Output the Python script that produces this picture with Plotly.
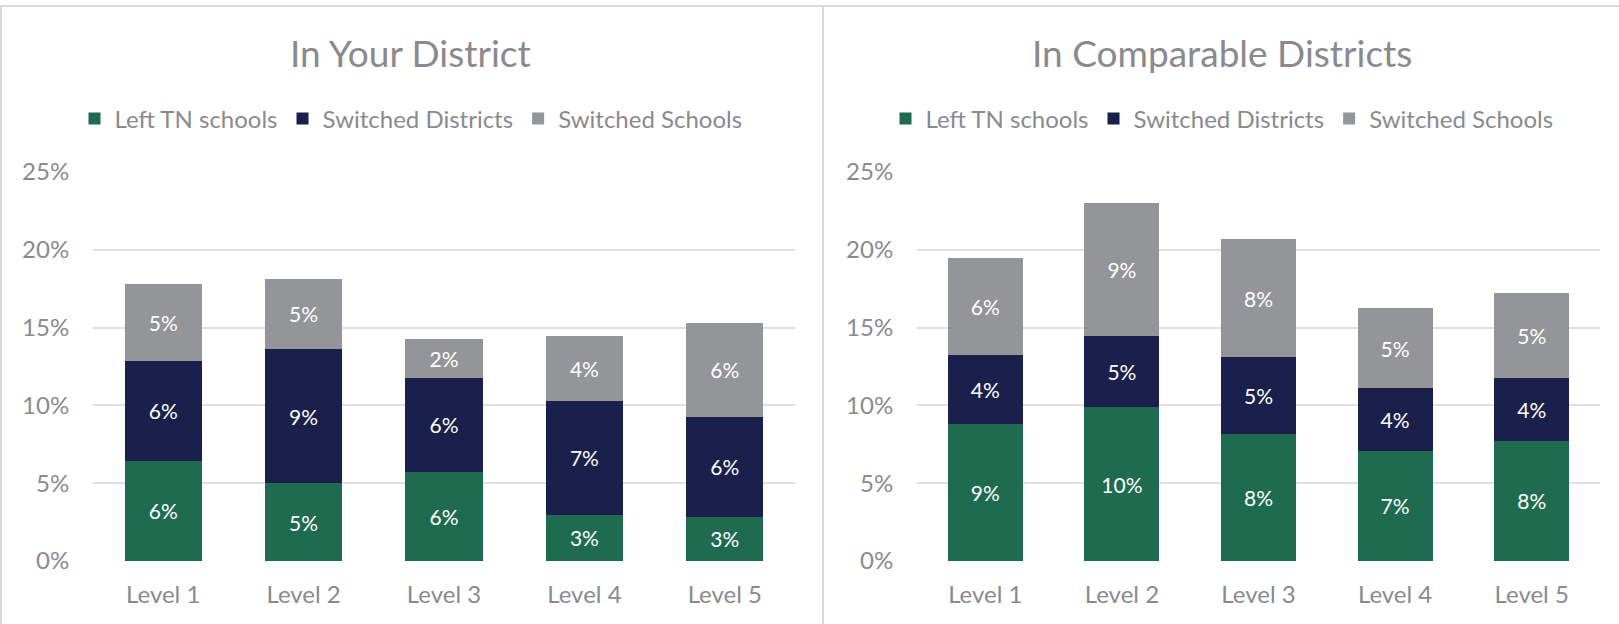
import plotly.graph_objects as go

categories = ["Level 1", "Level 2", "Level 3", "Level 4", "Level 5"]
series_names = ["Left TN schools", "Switched Districts", "Switched Schools"]

# In Your District (percent)
your_left = [6.44, 5.01, 5.73, 2.97, 2.84]
your_districts = [6.42, 8.61, 6.06, 7.33, 6.44]
your_schools = [4.96, 4.52, 2.45, 4.17, 6.03]

# In Comparable Districts (percent)
comp_left = [8.79, 9.89, 8.15, 7.08, 7.72]
comp_districts = [4.47, 4.60, 4.98, 4.01, 4.06]
comp_schools = [6.21, 8.54, 7.54, 5.14, 5.42]

titles = ["In Your District", "In Comparable Districts"]
y_ticks = [0, 5, 10, 15, 20, 25]

colors = ["#1e6b50", "#1a1f4b", "#939598"]
FONT = "Lato, 'Open Sans', sans-serif"
TXT = "#8a8a8e"

W, H = 1619, 624
fig = go.Figure()

panels = [
    dict(data=[your_left, your_districts, your_schools], xa="x", ya="y", legend="legend",
         xdom=(93 / W, 795 / W), pcenter=411 / W),
    dict(data=[comp_left, comp_districts, comp_schools], xa="x2", ya="y2", legend="legend2",
         xdom=(917 / W, 1600 / W), pcenter=1222 / W),
]

ydom = (1 - 561 / H, 1 - 172 / H)

for p in panels:
    for name, vals, col in zip(series_names, p["data"], colors):
        fig.add_trace(go.Bar(
            x=categories, y=vals, name=name, marker=dict(color=col, line=dict(width=0)),
            xaxis=p["xa"], yaxis=p["ya"], legend=p["legend"],
            text=[f"{round(v)}%" for v in vals], textposition="inside",
            insidetextanchor="middle", textangle=0,
            textfont=dict(color="white", size=21, family=FONT),
            hoverinfo="skip",
        ))

axis_common_x = dict(showgrid=False, zeroline=False, showline=False, automargin=False,
                     tickfont=dict(size=24, color=TXT, family=FONT),
                     ticks="outside", ticklen=12, tickcolor="rgba(0,0,0,0)")
axis_common_y = dict(range=[0, 25], tickvals=y_ticks, ticktext=[f"{t}%" for t in y_ticks],
                     showgrid=True, gridcolor="#e0e0e0", gridwidth=2, zeroline=False,
                     showline=False, automargin=False, tickfont=dict(size=24, color=TXT, family=FONT),
                     ticks="outside", ticklen=18, tickcolor="rgba(0,0,0,0)", domain=list(ydom))

legend_common = dict(orientation="h", xanchor="center", y=1 - 119 / H, yanchor="middle",
                     font=dict(size=24, color=TXT, family=FONT), traceorder="normal",
                     itemwidth=30, tracegroupgap=0, bgcolor="rgba(0,0,0,0)")

fig.update_layout(
    width=W, height=H, margin=dict(l=0, r=0, t=0, b=0, pad=0, autoexpand=False),
    paper_bgcolor="white", plot_bgcolor="white",
    barmode="stack", bargap=0.45,
    font=dict(family=FONT, color=TXT),
    xaxis=dict(domain=list(panels[0]["xdom"]), anchor="y", **axis_common_x),
    yaxis=dict(anchor="x", **axis_common_y),
    xaxis2=dict(domain=list(panels[1]["xdom"]), anchor="y2", **axis_common_x),
    yaxis2=dict(anchor="x2", **axis_common_y),
    legend=dict(x=panels[0]["pcenter"], **legend_common),
    legend2=dict(x=panels[1]["pcenter"], **legend_common),
    showlegend=True,
)

for p, t in zip(panels, titles):
    fig.add_annotation(text=t, x=p["pcenter"], y=1 - 52 / H, xref="paper", yref="paper",
                       xanchor="center", yanchor="middle", showarrow=False,
                       font=dict(size=37, color=TXT, family=FONT))

# panel frame lines
border = dict(color="#d9d9d9", width=2)
fig.add_shape(type="line", xref="paper", yref="paper", x0=0, x1=1, y0=1 - 6 / H, y1=1 - 6 / H, line=border)
fig.add_shape(type="line", xref="paper", yref="paper", x0=1 / W, x1=1 / W, y0=0, y1=1 - 6 / H, line=border)
fig.add_shape(type="line", xref="paper", yref="paper", x0=823 / W, x1=823 / W, y0=0, y1=1 - 6 / H, line=border)

fig.write_html("out.html", config={"displayModeBar": False},
               post_script="document.body.style.margin='0';document.body.style.padding='0';document.body.style.overflow='hidden';")
